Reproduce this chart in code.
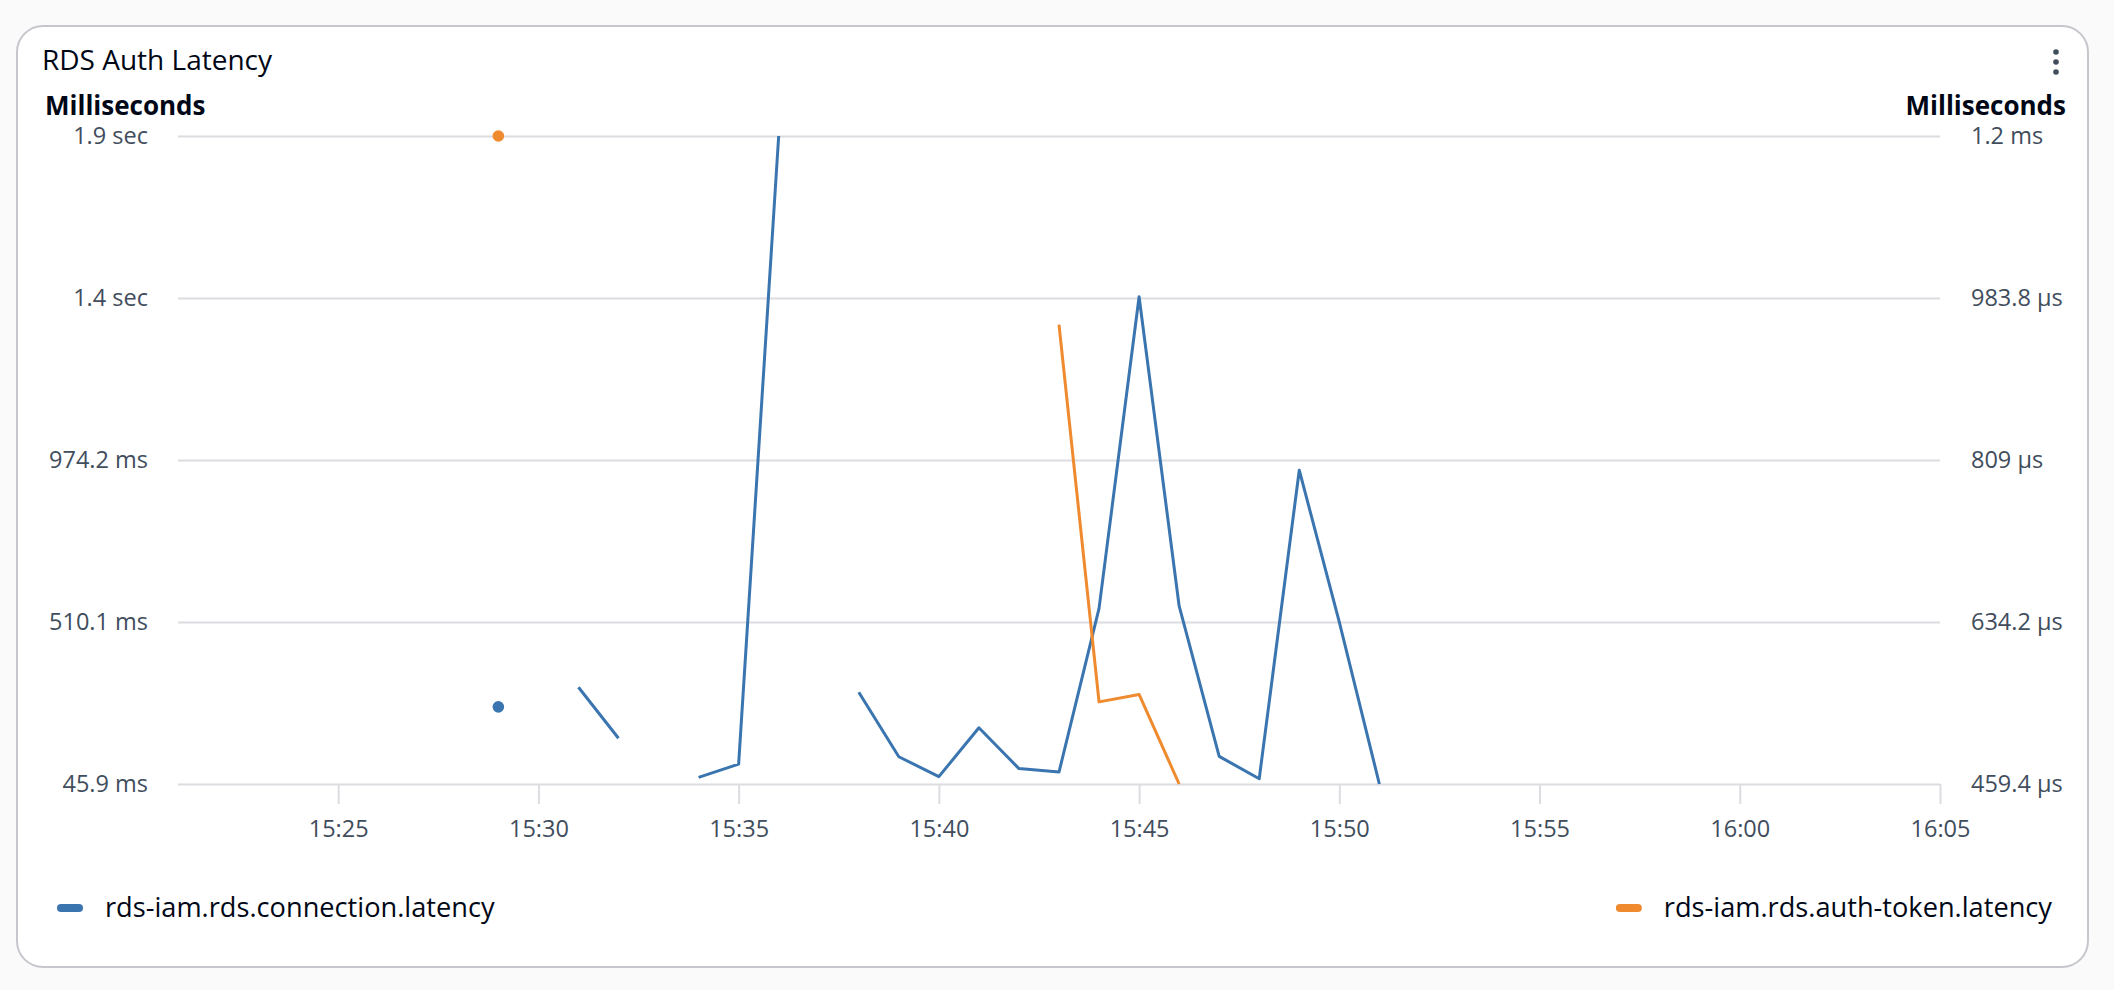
<!DOCTYPE html>
<html>
<head>
<meta charset="utf-8">
<script src="https://cdn.jsdelivr.net/npm/d3@7"></script>
<style>
  html, body { margin: 0; padding: 0; background: #fafafa; }
  svg { display: block; font-family: 'Open Sans', 'Noto Sans', sans-serif; }
</style>
</head>
<body>
<div id="chart"></div>
<script>
// minutes past 15:00 for each sample
const minutes = [29, 30, 31, 32, 33, 34, 35, 36, 37, 38, 39, 40, 41, 42, 43, 44, 45, 46, 47, 48, 49, 50, 51]

// rds-iam.rds.connection.latency, milliseconds (null = no data)
const connectionLatency = [267, null, 323, 177, null, 65, 103, 1902.5, null, 309, 124, 67, 207, 90, 80, 549, 1442, 556, 125, 61, 945, 510, 45.9]

// rds-iam.rds.auth-token.latency, microseconds (null = no data)
const authTokenLatency = [1158.6, null, null, null, null, null, null, null, null, null, null, null, null, null, 955, 548, 556, 459.4, null, null, null, null, null]

const seriesNames = ['rds-iam.rds.connection.latency', 'rds-iam.rds.auth-token.latency']

const leftTicks = [45.9, 510.1, 974.2, 1438.4, 1902.5]
const leftTickLabels = ['45.9 ms', '510.1 ms', '974.2 ms', '1.4 sec', '1.9 sec']
const rightTicks = [459.4, 634.2, 809, 983.8, 1158.6]
const rightTickLabels = ['459.4 µs', '634.2 µs', '809 µs', '983.8 µs', '1.2 ms']
const xTickMinutes = [25, 30, 35, 40, 45, 50, 55, 60, 65]

const W = 2114
const H = 990
const margin = { top: 136, right: 174, bottom: 206, left: 178 }
const width = W - margin.left - margin.right
const height = H - margin.top - margin.bottom

const blue = '#3a75b0'
const orange = '#f08a2e'
const grid = '#dcdce1'
const labelColor = '#414d5c'
const textColor = '#000716'

const toDate = m => new Date(2024, 0, 15, 15, m)

const svg = d3
  .select('#chart')
  .append('svg')
  .attr('width', W)
  .attr('height', H)

// card
svg
  .append('rect')
  .attr('x', 17)
  .attr('y', 26)
  .attr('width', 2071)
  .attr('height', 941)
  .attr('rx', 26)
  .attr('fill', '#fff')
  .attr('stroke', '#c6c6cd')
  .attr('stroke-width', 2)

svg
  .append('text')
  .attr('x', 42)
  .attr('y', 70)
  .attr('font-size', 28)
  .attr('fill', textColor)
  .text('RDS Auth Latency')

// menu dots
svg
  .selectAll('.menu-dot')
  .data([52, 62, 72])
  .enter()
  .append('circle')
  .attr('class', 'menu-dot')
  .attr('cx', 2056)
  .attr('cy', d => d)
  .attr('r', 2.8)
  .attr('fill', labelColor)

svg
  .append('text')
  .attr('x', 45)
  .attr('y', 115)
  .attr('font-size', 26)
  .attr('font-weight', 'bold')
  .attr('fill', textColor)
  .text('Milliseconds')

svg
  .append('text')
  .attr('x', 2066)
  .attr('y', 115)
  .attr('text-anchor', 'end')
  .attr('font-size', 26)
  .attr('font-weight', 'bold')
  .attr('fill', textColor)
  .text('Milliseconds')

const g = svg
  .append('g')
  .attr('transform', 'translate(' + margin.left + ',' + margin.top + ')')

const xPositionScale = d3
  .scaleTime()
  .domain([toDate(21), toDate(65)])
  .range([0, width])

const yLeftScale = d3
  .scaleLinear()
  .domain([leftTicks[0], leftTicks[leftTicks.length - 1]])
  .range([height, 0])

const yRightScale = d3
  .scaleLinear()
  .domain([rightTicks[0], rightTicks[rightTicks.length - 1]])
  .range([height, 0])

// horizontal grid + left labels
const yAxisLeft = d3
  .axisLeft(yLeftScale)
  .tickValues(leftTicks)
  .tickSize(-width)
  .tickPadding(30)
  .tickFormat((d, i) => leftTickLabels[i])

g.append('g')
  .attr('class', 'axis y-axis')
  .call(yAxisLeft)

const yAxisRight = d3
  .axisRight(yRightScale)
  .tickValues(rightTicks)
  .tickSize(0)
  .tickPadding(31)
  .tickFormat((d, i) => rightTickLabels[i])

g.append('g')
  .attr('class', 'axis y-axis-right')
  .attr('transform', 'translate(' + width + ',0)')
  .call(yAxisRight)

const xAxis = d3
  .axisBottom(xPositionScale)
  .tickValues(xTickMinutes.map(toDate))
  .tickSize(20)
  .tickPadding(16)
  .tickFormat(d3.timeFormat('%H:%M'))

g.append('g')
  .attr('class', 'axis x-axis')
  .attr('transform', 'translate(0,' + height + ')')
  .call(xAxis)

svg.selectAll('.domain').remove()
svg.selectAll('.axis line').attr('stroke', grid).attr('stroke-width', 2)
svg.selectAll('.y-axis-right line').remove()
svg
  .selectAll('.axis text')
  .attr('font-size', 23.5)
  .attr('font-family', "'Open Sans', 'Noto Sans', sans-serif")
  .attr('fill', labelColor)

// series
const series = [
  { name: seriesNames[0], values: connectionLatency, scale: yLeftScale, color: blue },
  { name: seriesNames[1], values: authTokenLatency, scale: yRightScale, color: orange }
]

series.forEach(s => {
  const points = minutes.map((m, i) => ({ date: toDate(m), value: s.values[i] }))

  const line = d3
    .line()
    .defined(d => d.value !== null)
    .x(d => xPositionScale(d.date))
    .y(d => s.scale(d.value))

  g.append('path')
    .datum(points)
    .attr('fill', 'none')
    .attr('stroke', s.color)
    .attr('stroke-width', 3)
    .attr('stroke-linejoin', 'round')
    .attr('d', line)

  // lone points with no neighbours get a dot
  const lone = points.filter((d, i) => {
    if (d.value === null) return false
    const prev = points[i - 1]
    const next = points[i + 1]
    return (!prev || prev.value === null) && (!next || next.value === null)
  })

  g.selectAll(null)
    .data(lone)
    .enter()
    .append('circle')
    .attr('cx', d => xPositionScale(d.date))
    .attr('cy', d => s.scale(d.value))
    .attr('r', 5.8)
    .attr('fill', s.color)
})

// legend
const legendLeft = svg.append('g').attr('transform', 'translate(57,908)')
legendLeft
  .append('rect')
  .attr('x', 0)
  .attr('y', -4)
  .attr('width', 26)
  .attr('height', 8)
  .attr('rx', 4)
  .attr('fill', blue)
legendLeft
  .append('text')
  .attr('x', 48)
  .attr('y', 9)
  .attr('font-size', 27.2)
  .attr('fill', textColor)
  .text(seriesNames[0])

const legendRight = svg.append('g').attr('transform', 'translate(2052,908)')
const rightText = legendRight
  .append('text')
  .attr('x', 0)
  .attr('y', 9)
  .attr('text-anchor', 'end')
  .attr('font-size', 27.2)
  .attr('fill', textColor)
  .text(seriesNames[1])
const rtw = rightText.node().getComputedTextLength()
legendRight
  .append('rect')
  .attr('x', -rtw - 48)
  .attr('y', -4)
  .attr('width', 26)
  .attr('height', 8)
  .attr('rx', 4)
  .attr('fill', orange)
</script>
</body>
</html>
